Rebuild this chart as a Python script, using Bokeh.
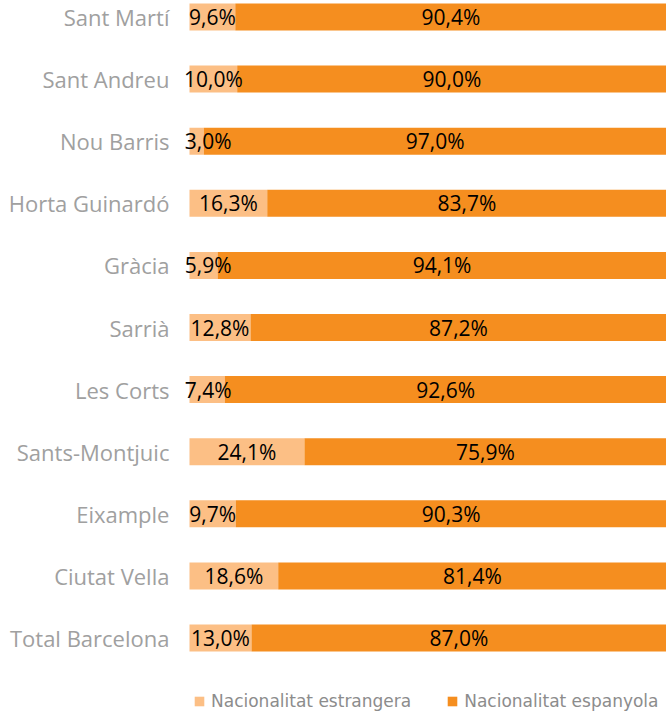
from bokeh.plotting import figure
from bokeh.models import ColumnDataSource, Range1d, Legend, LegendItem
from bokeh.core.properties import value
from bokeh.embed import file_html
from bokeh.resources import INLINE
import numpy as np

categories = ["Sant Martí", "Sant Andreu", "Nou Barris", "Horta Guinardó", "Gràcia",
              "Sarrià", "Les Corts", "Sants-Montjuic", "Eixample", "Ciutat Vella",
              "Total Barcelona"]
estrangera = [9.6, 10.0, 3.0, 16.3, 5.9, 12.8, 7.4, 24.1, 9.7, 18.6, 13.0]
espanyola = [90.4, 90.0, 97.0, 83.7, 94.1, 87.2, 92.6, 75.9, 90.3, 81.4, 87.0]
series_names = ["Nacionalitat estrangera", "Nacionalitat espanyola"]

LIGHT = "#FCBF85"
ORANGE = "#F58E1F"

n = len(categories)
ypos = np.arange(n)[::-1].astype(float)
est = np.array(estrangera)
esp = np.array(espanyola)

def fmt(v):
    return f"{v:.1f}%".replace(".", ",")

src = ColumnDataSource(dict(
    y=ypos, cat=categories, est=est, esp_left=est, esp_right=est + esp,
    est_lab=[fmt(v) for v in est], esp_lab=[fmt(v) for v in esp],
    est_x=np.maximum(est / 2, 3.9), esp_x=est + esp / 2,
    cat_x=np.full(n, -4.2),
))

p = figure(width=666, height=715, output_backend="svg", toolbar_location=None,
           x_range=Range1d(-39.62, 100), y_range=Range1d(-1.248, 10.266),
           min_border_left=0, min_border_right=0, min_border_top=0, min_border_bottom=0)
p.outline_line_color = None
p.xgrid.visible = False
p.ygrid.visible = False
p.xaxis.visible = False
p.yaxis.visible = False
p.background_fill_color = "white"
p.border_fill_color = "white"

r1 = p.hbar(y="y", left=0, right="est", height=0.435, source=src,
            fill_color=LIGHT, line_color=None)
r2 = p.hbar(y="y", left="esp_left", right="esp_right", height=0.435, source=src,
            fill_color=ORANGE, line_color=None)

p.text(x="est_x", y="y", text="est_lab", source=src, text_align="center",
       text_baseline="middle", text_font=value("Open Sans"), text_font_size="21px",
       text_color="black")
p.text(x="esp_x", y="y", text="esp_lab", source=src, text_align="center",
       text_baseline="middle", text_font=value("Open Sans"), text_font_size="21px",
       text_color="black")
p.text(x="cat_x", y="y", text="cat", source=src, text_align="right",
       text_baseline="middle", text_font=value("Open Sans"), text_font_size="22px",
       text_color="#A0A0A0")

legend = Legend(items=[LegendItem(label=series_names[0], renderers=[r1]),
                       LegendItem(label=series_names[1], renderers=[r2])],
                orientation="horizontal", location=(193, 4),
                glyph_width=12, glyph_height=12, label_height=12,
                label_standoff=6, spacing=35, padding=0, margin=0,
                border_line_color=None, background_fill_alpha=0,
                label_text_font="DejaVu Sans", label_text_font_size="17px",
                label_text_color="#8C8C8C")
p.add_layout(legend)

open("out.html", "w").write(file_html(p, INLINE))
